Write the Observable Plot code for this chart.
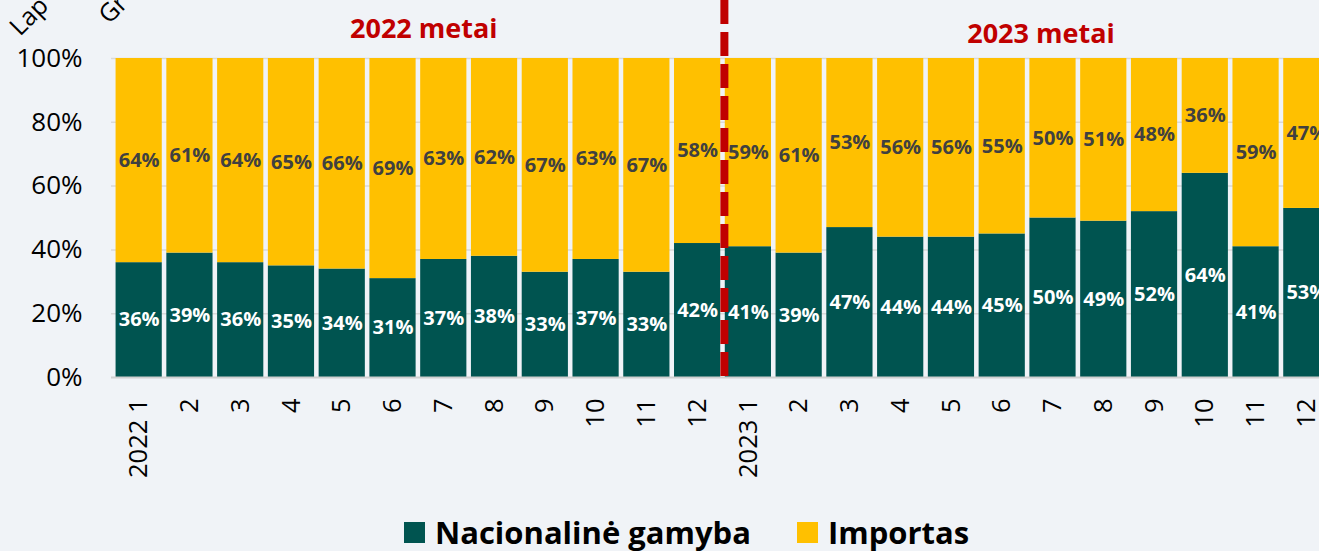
<!DOCTYPE html>
<html>
<head>
<meta charset="utf-8">
<script src="https://cdn.jsdelivr.net/npm/d3@7"></script>
<script src="https://cdn.jsdelivr.net/npm/@observablehq/plot@0.6"></script>
<style>
  html, body { margin: 0; padding: 0; background: #F0F3F7; overflow: hidden; }
  #chart { position: relative; width: 1334px; }
  .legend { display: flex; align-items: center; margin-left: 404px; height: 46px; padding-top: 4px;
            font-family: 'Open Sans', sans-serif; font-weight: bold; font-size: 31px; color: #000; }
  .legend .sw { width: 21px; height: 21px; display: inline-block; margin-right: 10px; }
  .legend .item { display: flex; align-items: center; margin-right: 46px; }
</style>
</head>
<body>
<div id="chart"></div>
<script>
const xLabels = ["2022 1","2","3","4","5","6","7","8","9","10","11","12",
                 "2023 1","2","3","4","5","6","7","8","9","10","11","12"];
const seriesNames = ["Nacionalinė gamyba", "Importas"];
const national = [36,39,36,35,34,31,37,38,33,37,33,42, 41,39,47,44,44,45,50,49,52,64,41,53];
const imports  = [64,61,64,65,66,69,63,62,67,63,67,58, 59,61,53,56,56,55,50,51,48,36,59,47];
const yTicks = [0, 0.2, 0.4, 0.6, 0.8, 1.0];
const yearTitles = ["2022 metai", "2023 metai"];
const colors = ["#005450", "#FFC000"];

const idx = d3.range(xLabels.length);
const rows = [];
idx.forEach(i => {
  rows.push({i, s: seriesNames[0], v: national[i] / 100});
  rows.push({i, s: seriesNames[1], v: imports[i] / 100});
});

const font = "'Open Sans', sans-serif";

const chart = Plot.plot({
  width: 1334,
  height: 505,
  marginLeft: 111,
  marginRight: 0,
  marginTop: 58,
  marginBottom: 128,
  style: {background: "#F0F3F7", fontFamily: font, overflow: "visible"},
  x: {domain: idx, padding: 0.09, round: false, label: null},
  y: {domain: [0, 1], label: null},
  color: {domain: seriesNames, range: colors},
  marks: [
    Plot.ruleY(yTicks.slice(1), {stroke: "#D9D9D9", strokeWidth: 1.5}),
    Plot.barY(rows, {x: "i", y: "v", fill: "s"}),
    Plot.ruleY([0], {stroke: "#D0D0D0", strokeWidth: 2}),
    Plot.text(idx, {x: d => d, y: d => national[d] / 200, text: d => national[d] + "%",
      fill: "white", fontWeight: "bold", fontSize: 20}),
    Plot.text(idx, {x: d => d, y: d => (national[d] + imports[d] / 2) / 100, text: d => imports[d] + "%",
      fill: "#404040", fontWeight: "bold", fontSize: 20}),
    Plot.ruleX([12], {x: d => d, y1: 1.182, y2: 0, stroke: "#C00000", strokeWidth: 8,
      strokeDasharray: "24,8", dx: -24}),
    Plot.text([yearTitles[0]], {x: () => 6, y: () => 1.09, text: d => d, dx: -20,
      fill: "#C00000", fontWeight: "bold", fontSize: 27}),
    Plot.text([yearTitles[1]], {x: () => 18, y: () => 1.077, text: d => d, dx: -12,
      fill: "#C00000", fontWeight: "bold", fontSize: 27}),
    Plot.axisY({ticks: yTicks, tickFormat: d3.format(".0%"), tickSize: 0, tickPadding: 29,
      fontSize: 26, fill: "#000", label: null}),
    Plot.axisX({tickFormat: i => xLabels[i], tickRotate: -90, tickSize: 0, tickPadding: 21,
      fontSize: 25.5, fill: "#000", label: null})
  ]
});

const svg = d3.select(chart.tagName === "svg" ? chart : chart.querySelector("svg"));
svg.append("text").attr("transform", "translate(35,22) rotate(-45)")
  .attr("font-size", 25).attr("font-family", font).attr("fill", "#000").text("Lap");
svg.append("text").attr("transform", "translate(119,15) rotate(-45)")
  .attr("font-size", 25).attr("font-family", font).attr("fill", "#000").text("Gr");

document.getElementById("chart").appendChild(chart);

const legend = document.createElement("div");
legend.className = "legend";
seriesNames.forEach((n, k) => {
  const it = document.createElement("span");
  it.className = "item";
  const sw = document.createElement("span");
  sw.className = "sw";
  sw.style.background = colors[k];
  it.appendChild(sw);
  it.appendChild(document.createTextNode(n));
  legend.appendChild(it);
});
document.body.appendChild(legend);
</script>
</body>
</html>
